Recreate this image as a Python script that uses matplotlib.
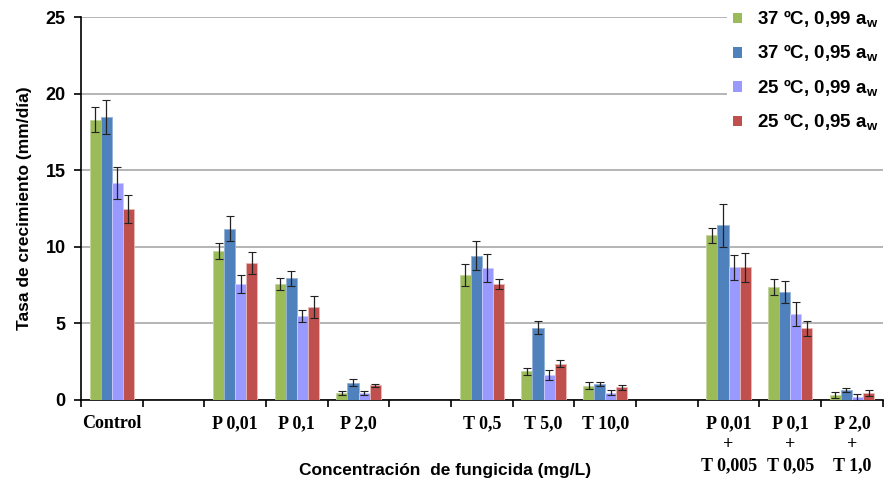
import matplotlib
matplotlib.use("Agg")
import matplotlib.pyplot as plt
import numpy as np
from matplotlib.patches import Patch

plt.rcParams['mathtext.fontset'] = 'custom'
plt.rcParams['mathtext.rm'] = 'Liberation Sans:bold'
plt.rcParams['mathtext.bf'] = 'Liberation Sans:bold'

categories = ["Control", "", "P 0,01", "P 0,1", "P 2,0", "", "T 0,5", "T 5,0", "T 10,0", "",
              "P 0,01\n+\nT 0,005", "P 0,1\n+\nT 0,05", "P 2,0\n+\nT 1,0"]
series_labels = ["37 ºC, 0,99 a$_\\mathbf{w}$", "37 ºC, 0,95 a$_\\mathbf{w}$",
                 "25 ºC, 0,99 a$_\\mathbf{w}$", "25 ºC, 0,95 a$_\\mathbf{w}$"]
nan = np.nan
s37_099 = [18.3, nan, 9.74, 7.58, 0.46, nan, 8.18, 1.86, 0.94, nan, 10.74, 7.36, 0.33]
s37_095 = [18.47, nan, 11.18, 7.95, 1.13, nan, 9.43, 4.73, 1.05, nan, 11.39, 7.06, 0.65]
s25_099 = [14.16, nan, 7.58, 5.47, 0.46, nan, 8.6, 1.64, 0.48, nan, 8.67, 5.62, 0.2]
s25_095 = [12.46, nan, 8.95, 6.06, 0.96, nan, 7.57, 2.36, 0.83, nan, 8.67, 4.68, 0.46]
e37_099 = [0.8, nan, 0.52, 0.4, 0.12, nan, 0.72, 0.25, 0.22, nan, 0.48, 0.51, 0.2]
e37_095 = [1.1, nan, 0.8, 0.5, 0.22, nan, 0.92, 0.4, 0.15, nan, 1.42, 0.71, 0.13]
e25_099 = [1.03, nan, 0.6, 0.4, 0.14, nan, 0.92, 0.32, 0.17, nan, 0.82, 0.8, 0.17]
e25_095 = [0.92, nan, 0.72, 0.73, 0.1, nan, 0.31, 0.22, 0.16, nan, 0.94, 0.49, 0.17]

values = [s37_099, s37_095, s25_099, s25_095]
errors = [e37_099, e37_095, e25_099, e25_095]
colors = ["#9BBB59", "#4F81BD", "#9999FF", "#C0504D"]
edges = ["#C3D69B", "#95B3D7", "#CCCCFF", "#E6B9B8"]

fig = plt.figure(figsize=(8.85, 4.86), dpi=100)
ax = fig.add_axes([0.0915, 0.177, 0.906, 0.788])

x = np.arange(len(categories))
w = 0.18
for i, (v, e) in enumerate(zip(values, errors)):
    off = (i - 1.5) * w
    ax.bar(x + off, v, width=w, color=colors[i], edgecolor=edges[i], linewidth=0.6, zorder=3)
    ax.errorbar(x + off, v, yerr=e, fmt='none', ecolor='#222222', elinewidth=0.9,
                capsize=3, capthick=0.8, zorder=4)

ax.set_ylim(0, 25)
ax.set_xlim(-0.5, len(categories) - 0.5)
ax.set_yticks([0, 5, 10, 15, 20, 25])
ax.yaxis.grid(True, color='#A0A0A0', linewidth=1.1, zorder=0)
ax.set_axisbelow(True)
for s in ['top', 'right']:
    ax.spines[s].set_visible(False)
ax.spines['left'].set_linewidth(1.2)
ax.spines['bottom'].set_linewidth(1.2)

ax.set_xticks(x)
ax.set_xticklabels(categories, fontfamily='Liberation Serif', fontweight='bold',
                   fontsize=13, linespacing=1.3, va='top')
ax.tick_params(axis='x', which='major', length=0, pad=11)
ax.set_xticks(np.arange(-0.5, len(categories), 1.0), minor=True)
ax.tick_params(axis='x', which='minor', length=5, width=1.2, direction='out')
ax.tick_params(axis='y', length=5, width=1.2, direction='out', labelsize=13, pad=6)
for lab in ax.get_yticklabels():
    lab.set_fontweight('bold')
    lab.set_fontfamily('Liberation Sans')

ax.set_ylabel("Tasa de crecimiento (mm/día)", fontfamily='Liberation Sans',
              fontweight='bold', fontsize=12.5, labelpad=10)
fig.text(0.503, 0.031, "Concentración  de fungicida (mg/L)", fontfamily='Liberation Sans',
         fontweight='bold', fontsize=12.5, ha='center', va='center')

handles = [Patch(facecolor=c, edgecolor='none') for c in colors]
leg = ax.legend(handles, series_labels, loc='upper right', bbox_to_anchor=(1.008, 1.05),
                prop={'family': 'Liberation Sans', 'weight': 'bold', 'size': 13.5},
                frameon=True, fancybox=False, edgecolor='none', facecolor='white',
                framealpha=1, handlelength=0.45, handleheight=0.45, handletextpad=0.8,
                labelspacing=0.68, borderpad=0.3, borderaxespad=0.3)
leg.set_zorder(10)

fig.savefig("out.png", dpi=100)
